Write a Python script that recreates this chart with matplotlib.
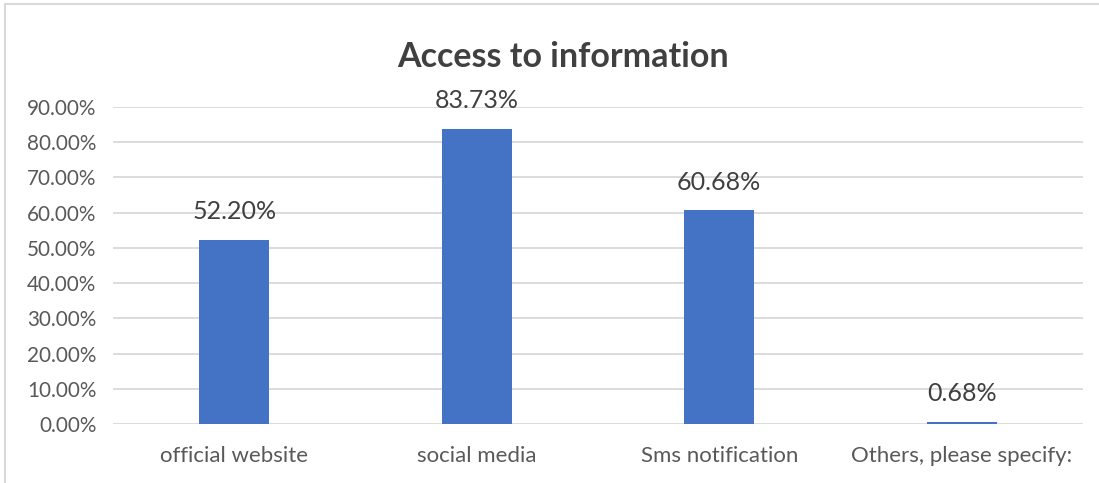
import matplotlib.pyplot as plt
from matplotlib.patches import Rectangle
from matplotlib.ticker import PercentFormatter

categories = ["official website", "social media", "Sms notification", "Others, please specify:"]
shares = [52.20, 83.73, 60.68, 0.68]
y_ticks = [0, 10, 20, 30, 40, 50, 60, 70, 80, 90]

bar_color = "#4472C4"
text_color = "#595959"
grid_color = "#D9D9D9"

plt.rcParams["font.family"] = ["Lato", "DejaVu Sans"]

fig = plt.figure(figsize=(10.99, 4.83), dpi=100)
ax = fig.add_axes([0.1028, 0.1222, 0.8826, 0.6563])

# chart frame (only left and top edges show)
fig.patches.append(Rectangle((5 / 1099, -0.1), 1.2, 1 - 4 / 483 + 0.1,
                             transform=fig.transFigure, fill=False,
                             edgecolor=grid_color, linewidth=1.5))

x = range(len(categories))
bars = ax.bar(x, shares, width=0.29, color=bar_color, zorder=3)

for xi, v in zip(x, shares):
    ax.annotate(f"{v:.2f}%", (xi, v), xytext=(0, 12), textcoords="offset points",
                ha="center", va="bottom", fontsize=18, color="#404040")

ax.set_xlim(-0.5, len(categories) - 0.5)
ax.set_ylim(0, 90)
ax.set_yticks(y_ticks)
ax.yaxis.set_major_formatter(PercentFormatter(decimals=2))
ax.set_xticks(list(x))
ax.set_xticklabels(categories)
ax.tick_params(axis="both", length=0, colors=text_color)
ax.tick_params(axis="x", pad=16, labelsize=16)
ax.tick_params(axis="y", pad=12, labelsize=14.9)
ax.grid(axis="y", color=grid_color, linewidth=1.3, zorder=0)
for s in ax.spines.values():
    s.set_visible(False)

fig.text(563 / 1099, 1 - 57 / 483, "Access to information", ha="center", va="center",
         fontsize=24.5, fontweight="bold", color="#404040")

fig.savefig("out.png", dpi=100)
